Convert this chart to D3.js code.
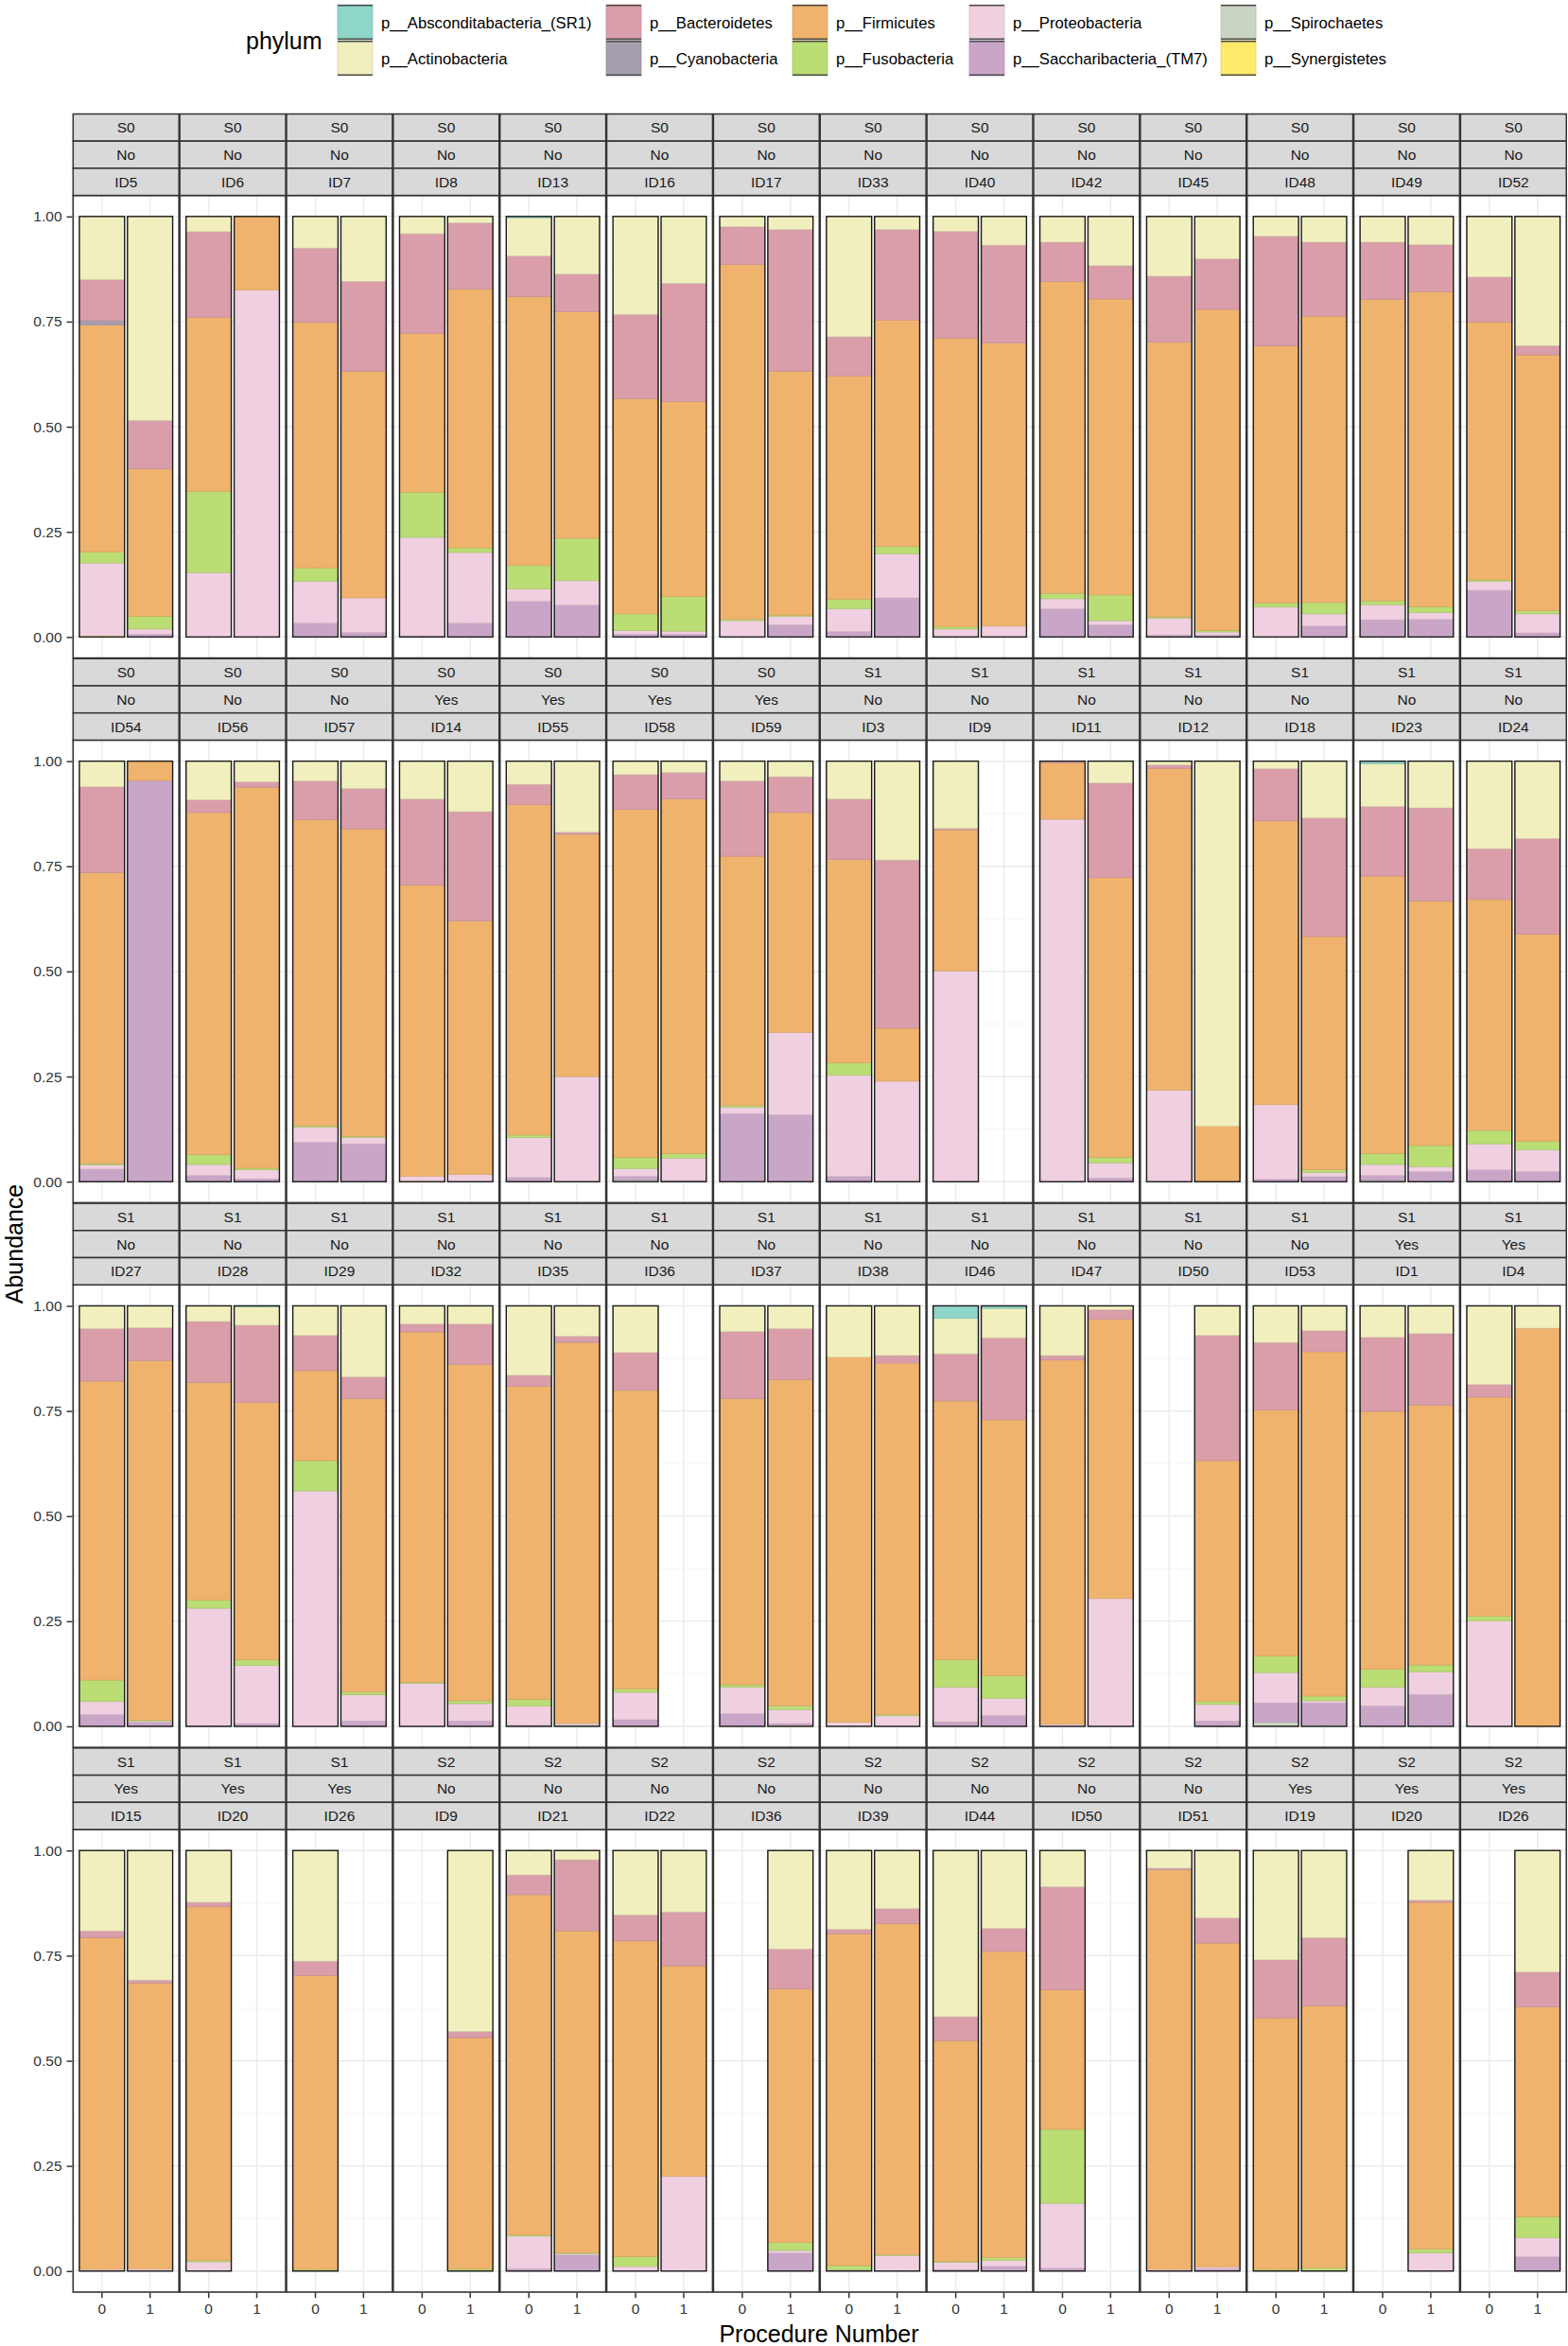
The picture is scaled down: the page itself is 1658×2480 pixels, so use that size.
<!DOCTYPE html>
<html><head><meta charset="utf-8">
<script src="https://cdn.jsdelivr.net/npm/d3@7"></script>
<style>
body{margin:0;background:#fff;}
svg{display:block;font-family:"Liberation Sans",Arial,Helvetica,sans-serif;}
</style>
</head><body>
<svg id="chart" width="1658" height="2480"></svg>
<script>
// ---------------- DATA ----------------
const phyla = ["p__Absconditabacteria_(SR1)","p__Actinobacteria","p__Bacteroidetes","p__Cyanobacteria",
  "p__Firmicutes","p__Fusobacteria","p__Proteobacteria","p__Saccharibacteria_(TM7)","p__Spirochaetes","p__Synergistetes"];
const phylumColors = ["#8ed6c8","#f1efbd","#d99eaa","#a79fb0","#efb36d","#badd74","#f0d0e0","#c9a6c8","#c9d4c2","#ffeb6a"];
const procedures = ["0","1"];
const panelStage = [
  "S0","S0","S0","S0","S0","S0","S0","S0","S0","S0","S0","S0","S0","S0",
  "S0","S0","S0","S0","S0","S0","S0","S1","S1","S1","S1","S1","S1","S1",
  "S1","S1","S1","S1","S1","S1","S1","S1","S1","S1","S1","S1","S1","S1",
  "S1","S1","S1","S2","S2","S2","S2","S2","S2","S2","S2","S2","S2","S2"];
const panelGroup = [
  "No","No","No","No","No","No","No","No","No","No","No","No","No","No",
  "No","No","No","Yes","Yes","Yes","Yes","No","No","No","No","No","No","No",
  "No","No","No","No","No","No","No","No","No","No","No","No","Yes","Yes",
  "Yes","Yes","Yes","No","No","No","No","No","No","No","No","Yes","Yes","Yes"];
const panelId = [
  "ID5","ID6","ID7","ID8","ID13","ID16","ID17","ID33","ID40","ID42","ID45","ID48","ID49","ID52",
  "ID54","ID56","ID57","ID14","ID55","ID58","ID59","ID3","ID9","ID11","ID12","ID18","ID23","ID24",
  "ID27","ID28","ID29","ID32","ID35","ID36","ID37","ID38","ID46","ID47","ID50","ID53","ID1","ID4",
  "ID15","ID20","ID26","ID9","ID21","ID22","ID36","ID39","ID44","ID50","ID51","ID19","ID20","ID26"];

// abundance per bar: panel order, each panel = [procedure 0, procedure 1]
const absconditabacteria = [
  0,0, 0,0, 0,0, 0,0, .003,0, 0,0, 0,0, 0,0, 0,0, 0,0, 0,0, 0,0, 0,0, 0,0,
  0,0, 0,0, 0,0, 0,0, 0,0, 0,0, 0,0, 0,0, 0,0, 0,0, 0,0, 0,0, .006,0, 0,0,
  0,0, 0,.002, 0,0, 0,0, 0,0, 0,0, 0,0, 0,0, .030,.006, 0,0, 0,0, 0,0, 0,0, 0,0,
  0,0, 0,0, 0,0, 0,0, 0,0, 0,0, 0,0, 0,0, 0,0, 0,0, 0,0, 0,0, 0,0, 0,0];
const actinobacteria = [
  .150,.485, .036,0, .075,.154, .041,.015, .091,.137, .233,.159, .024,.031, .286,.031, .035,.068, .061,.117, .142,.101, .047,.061, .061,.067, .144,.307,
  .061,0, .092,.049, .047,.065, .090,.120, .055,.169, .032,.027, .047,.037, .090,.235, .160,0, 0,.052, .009,.868, .018,.135, .102,.111, .208,.184,
  .054,.052, .037,.044, .070,.169, .043,.043, .165,.072, .111,0, .061,.054, .122,.118, .084,.070, .118,.009, 0,.070, .087,.059, .075,.066, .187,.053,
  .191,.308, .123,0, .263,0, 0,.430, .058,.022, .153,.146, 0,.234, .187,.138, .395,.185, .086,0, .042,.160, .260,.207, 0,.118, 0,.289];
const bacteroidetes = [
  .098,.115, .204,0, .177,.214, .237,.158, .097,.089, .200,.281, .090,.337, .093,.215, .254,.233, .094,.079, .157,.120, .261,.176, .136,.112, .107,.022,
  .204,0, .030,.013, .092,.096, .205,.260, .048,.005, .083,.063, .179,.085, .144,.400, .003,0, .004,.225, .008,0, .124,.282, .165,.222, .121,.227,
  .125,.078, .145,.184, .084,.051, .019,.096, .026,.015, .090,0, .159,.122, 0,.018, .112,.195, .011,.023, 0,.298, .161,.050, .176,.170, .030,0,
  .016,.007, .011,0, .034,0, 0,.015, .047,.169, .062,.128, 0,.095, .011,.036, .057,.055, .245,0, .004,.060, .138,.163, 0,.005, 0,.083];
const cyanobacteria = [
  .010,0, 0,0, 0,0, 0,0, 0,0, 0,0, 0,0, 0,0, 0,0, 0,0, 0,0, 0,0, 0,0, 0,0,
  0,0, 0,0, 0,0, 0,0, 0,0, 0,0, 0,0, 0,0, 0,0, 0,0, 0,0, 0,0, 0,0, 0,0,
  0,0, 0,0, 0,0, 0,0, 0,0, 0,0, 0,0, 0,0, 0,0, 0,0, 0,0, 0,0, 0,0, 0,0,
  0,0, 0,0, 0,0, 0,0, 0,0, 0,0, 0,0, 0,0, 0,0, 0,0, 0,0, 0,0, 0,0, 0,0];
const firmicutes = [
  .540,.351, .414,.175, .584,.539, .378,.615, .639,.539, .512,.464, .844,.580, .531,.539, .687,.673, .741,.704, .653,.763, .611,.681, .717,.749, .613,.608,
  .692,.046, .814,.906, .728,.731, .692,.603, .786,.576, .827,.843, .593,.523, .483,.126, .336,0, .134,.665, .765,.132, .675,.555, .660,.581, .549,.493,
  .711,.855, .518,.612, .214,.698, .833,.800, .745,.906, .710,0, .681,.775, .868,.836, .616,.608, .866,.664, 0,.573, .585,.819, .613,.618, .521,.947,
  .789,.680, .841,0, .699,0, 0,.550, .809,.766, .751,.501, 0,.603, .789,.787, .525,.728, .332,0, .950,.770, .598,.623, 0,.825, 0,.499];
const fusobacteria = [
  .026,.030, .193,0, .032,0, .107,.011, .056,.101, .040,.082, .003,.003, .023,.017, .005,0, .013,.061, .003,.004, .010,.027, .009,.014, .004,.008,
  .003,0, .023,.004, .003,.003, 0,0, .006,0, .027,.011, .004,0, .030,0, 0,0, 0,.013, 0,0, 0,.006, .026,.050, .032,.020,
  .051,.002, .019,.013, .072,.007, .003,.007, .016,0, .008,0, .006,.009, 0,.003, .065,.054, 0,0, 0,.007, .039,.011, .043,.016, .011,0,
  0,0, .003,0, .004,0, 0,.005, .003,.002, .023,0, 0,.019, .010,.002, .002,.007, .176,0, 0,0, .004,.007, 0,.009, 0,.050];
const proteobacteria = [
  .173,.012, .153,.825, .099,.082, .234,.168, .029,.058, .008,.007, .039,.020, .054,.105, .019,.026, .024,.010, .040,.007, .071,.029, .036,.016, .021,.045,
  .010,0, .026,.021, .036,.015, .013,.017, .095,.250, .018,.053, .015,.196, .240,.239, .501,0, .862,.036, .218,0, .177,.010, .026,.012, .062,.052,
  .031,.003, .279,.138, .560,.062, .102,.041, .045,.003, .065,0, .063,.033, .010,.025, .082,.041, .005,.304, 0,.039, .072,.005, .044,.054, .251,0,
  .004,.005, .022,0, 0,0, 0,0, .077,.003, .011,.225, 0,.006, 0,.037, .017,.014, .154,0, .004,.004, 0,0, 0,.043, 0,.045];
const saccharibacteria = [
  0,.007, 0,0, .033,.011, .003,.033, .085,.076, .007,.007, 0,.029, .013,.093, 0,0, .067,.029, .005,.005, 0,.026, .041,.042, .111,.010,
  .030,.954, .015,.007, .094,.090, 0,0, .010,0, .009,.003, .162,.159, .013,0, 0,0, 0,.009, 0,0, .006,.012, .012,.024, .028,.024,
  .028,.010, .002,.007, 0,.013, 0,.013, .003,0, .016,0, .030,.005, 0,0, .011,.026, 0,0, 0,.013, .046,.052, .049,.076, 0,0,
  0,0, 0,0, 0,0, 0,0, .006,.038, 0,0, 0,.043, .003,0, .004,.011, .007,0, 0,.006, 0,0, 0,0, 0,.034];
const spirochaetes = [
  0,0, 0,0, 0,0, 0,0, 0,0, 0,0, 0,0, 0,0, 0,0, 0,0, 0,0, 0,0, 0,0, 0,0,
  0,0, 0,0, 0,0, 0,0, 0,0, .004,0, 0,0, 0,0, 0,0, 0,0, 0,0, 0,0, .003,0, 0,0,
  0,0, 0,0, 0,0, 0,0, 0,.004, 0,0, 0,0, 0,0, 0,0, 0,0, 0,0, .010,.004, 0,0, 0,0,
  0,0, 0,0, 0,0, 0,0, 0,0, 0,0, 0,0, 0,0, 0,0, 0,0, 0,0, 0,0, 0,0, 0,0];
const synergistetes = [
  .003,0, 0,0, 0,0, 0,0, 0,0, 0,0, 0,0, 0,0, 0,0, 0,0, 0,0, 0,0, 0,0, 0,0,
  0,0, 0,0, 0,0, 0,0, 0,0, 0,0, 0,0, 0,0, 0,0, 0,0, 0,0, 0,0, 0,0, 0,0,
  0,0, 0,0, 0,0, 0,0, 0,0, 0,0, 0,.002, 0,0, 0,0, 0,0, 0,0, 0,0, 0,0, 0,0,
  0,0, 0,0, 0,0, 0,0, 0,0, 0,0, 0,0, 0,0, 0,0, 0,0, 0,0, 0,0, 0,0, 0,0];
const seriesValues = [absconditabacteria, actinobacteria, bacteroidetes, cyanobacteria, firmicutes,
  fusobacteria, proteobacteria, saccharibacteria, spirochaetes, synergistetes];
const yTicks = [0, 0.25, 0.5, 0.75, 1];
const yMinor = [0.125, 0.375, 0.625, 0.875];
const legendTitle = "phylum";
const xTitle = "Procedure Number";
const yTitle = "Abundance";

// ---------------- LAYOUT ----------------
const nCol = 14;
const colLeft0 = 77.3, colPitch = 112.85, panelW = 111.9;
const rowTop0 = 206.6, rowPitch = 575.8, panelH = 489, stripH = 28.7;
const svg = d3.select("#chart");

const colorOf = d3.scaleOrdinal().domain(phyla).range(phylumColors);
const stackKeys = phyla.slice().reverse();

const bars = d3.range(panelId.length * 2).map(i => {
  const o = {panel: Math.floor(i / 2), proc: procedures[i % 2]};
  phyla.forEach((p, k) => { o[p] = seriesValues[k][i]; });
  o.total = d3.sum(phyla, p => o[p]);
  return o;
}).filter(d => d.total > 0);
const stacked = d3.stack().keys(stackKeys).offset(d3.stackOffsetExpand)(bars);

function xScaleFor(c) {
  const L = colLeft0 + c * colPitch;
  return d3.scaleBand().domain(procedures).range([L, L + panelW]).paddingInner(0.06).paddingOuter(0.13);
}
function yScaleFor(r) {
  const T = rowTop0 + r * rowPitch;
  return d3.scaleLinear().domain([-0.05, 1.05]).range([T + panelH, T]);
}
const nRow = Math.ceil(panelId.length / nCol);

// panels
const panelG = svg.append("g");
panelId.forEach((id, pi) => {
  const r = Math.floor(pi / nCol), c = pi % nCol;
  const xs = xScaleFor(c), ys = yScaleFor(r);
  const L = colLeft0 + c * colPitch, T = rowTop0 + r * rowPitch;
  const g = panelG.append("g");
  g.append("rect").attr("x", L).attr("y", T).attr("width", panelW).attr("height", panelH).attr("fill", "#fff");
  g.selectAll("line.minor").data(yMinor).join("line")
    .attr("x1", L).attr("x2", L + panelW).attr("y1", d => ys(d)).attr("y2", d => ys(d))
    .attr("stroke", "#f2f2f2").attr("stroke-width", 0.8);
  g.selectAll("line.major").data(yTicks).join("line")
    .attr("x1", L).attr("x2", L + panelW).attr("y1", d => ys(d)).attr("y2", d => ys(d))
    .attr("stroke", "#ebebeb").attr("stroke-width", 1.5);
  g.selectAll("line.vx").data(procedures).join("line")
    .attr("x1", d => xs(d) + xs.bandwidth() / 2).attr("x2", d => xs(d) + xs.bandwidth() / 2)
    .attr("y1", T).attr("y2", T + panelH)
    .attr("stroke", "#ebebeb").attr("stroke-width", 1.5);

  // stacked segments
  stacked.forEach(s => {
    const pts = s.filter(d => d.data.panel === pi && d[1] - d[0] > 0);
    g.selectAll(null).data(pts).join("rect")
      .attr("x", d => xs(d.data.proc))
      .attr("width", xs.bandwidth())
      .attr("y", d => ys(d[1]))
      .attr("height", d => ys(d[0]) - ys(d[1]))
      .attr("fill", colorOf(s.key))
      .attr("stroke", d3.color(colorOf(s.key)).darker(0.35))
      .attr("stroke-width", 0.6);
  });
  // bar outlines
  g.selectAll("rect.outline").data(bars.filter(b => b.panel === pi)).join("rect")
    .attr("x", d => xs(d.proc)).attr("width", xs.bandwidth())
    .attr("y", ys(1)).attr("height", ys(0) - ys(1))
    .attr("fill", "none").attr("stroke", "#1a1a1a").attr("stroke-width", 1.4);

  // panel border
  g.append("rect").attr("x", L).attr("y", T).attr("width", panelW).attr("height", panelH)
    .attr("fill", "none").attr("stroke", "#333").attr("stroke-width", 1.6);

  // strips
  const labels = [panelStage[pi], panelGroup[pi], id];
  labels.forEach((t, k) => {
    const sy = T - 3 * stripH + k * stripH;
    g.append("rect").attr("x", L).attr("y", sy).attr("width", panelW).attr("height", stripH)
      .attr("fill", "#d9d9d9").attr("stroke", "#333").attr("stroke-width", 1.5);
    g.append("text").attr("x", L + panelW / 2).attr("y", sy + stripH / 2 + 5.5)
      .attr("text-anchor", "middle").attr("font-size", 15.5).attr("fill", "#1a1a1a").text(t);
  });

  // y axis for first column
  if (c === 0) {
    const ax = svg.append("g").attr("transform", `translate(${L - 0.8},0)`)
      .call(d3.axisLeft(ys).tickValues(yTicks).tickFormat(d3.format(".2f")).tickSize(6).tickPadding(5));
    ax.select(".domain").remove();
    ax.selectAll(".tick line").attr("stroke", "#333").attr("stroke-width", 1.5);
    ax.selectAll(".tick text").attr("font-size", 15.5).attr("fill", "#333")
      .attr("font-family", "Liberation Sans, Arial, sans-serif");
  }
  // x axis for bottom row
  if (r === nRow - 1) {
    const ax = svg.append("g").attr("transform", `translate(0,${T + panelH + 0.8})`)
      .call(d3.axisBottom(xs).tickSize(5.5).tickPadding(6));
    ax.select(".domain").remove();
    ax.selectAll(".tick line").attr("stroke", "#333").attr("stroke-width", 1.5);
    ax.selectAll(".tick text").attr("font-size", 15.5).attr("fill", "#333")
      .attr("font-family", "Liberation Sans, Arial, sans-serif");
  }
});

// axis titles
svg.append("text").attr("x", 866).attr("y", 2476).attr("text-anchor", "middle")
  .attr("font-size", 25).attr("fill", "#000").text(xTitle);
svg.append("text").attr("transform", "translate(24,1315) rotate(-90)").attr("text-anchor", "middle")
  .attr("font-size", 25).attr("fill", "#000").text(yTitle);

// legend
const keyX = [357, 641, 838, 1025, 1291];
const keyY = [5, 43];
const keyW = 37, keyH = 37;
const leg = svg.append("g");
leg.append("text").attr("x", 260).attr("y", 52).attr("font-size", 25).attr("fill", "#000").text(legendTitle);
phyla.forEach((p, i) => {
  const cx = keyX[Math.floor(i / 2)], cy = keyY[i % 2];
  leg.append("rect").attr("x", cx).attr("y", cy).attr("width", keyW).attr("height", keyH)
    .attr("fill", colorOf(p)).attr("stroke", d3.color(colorOf(p)).darker(0.3)).attr("stroke-width", 0.8);
  leg.append("line").attr("x1", cx).attr("x2", cx + keyW).attr("y1", cy + 0.8).attr("y2", cy + 0.8)
    .attr("stroke", "#4d4d4d").attr("stroke-width", 1.6);
  leg.append("line").attr("x1", cx).attr("x2", cx + keyW).attr("y1", cy + keyH - 0.8).attr("y2", cy + keyH - 0.8)
    .attr("stroke", "#4d4d4d").attr("stroke-width", 1.6);
  leg.append("text").attr("x", cx + 46).attr("y", cy + keyH / 2 + 6)
    .attr("font-size", 16.7).attr("fill", "#000").text(p);
});
</script>
</body></html>
